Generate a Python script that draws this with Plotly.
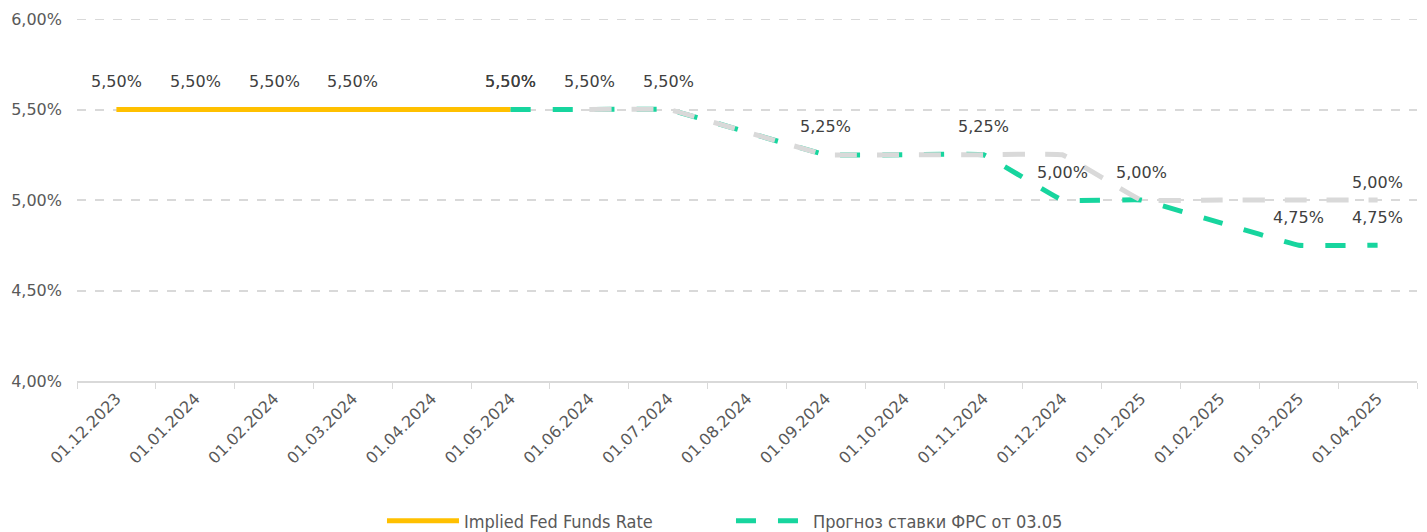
import plotly.graph_objects as go

dates = ["01.12.2023", "01.01.2024", "01.02.2024", "01.03.2024", "01.04.2024",
         "01.05.2024", "01.06.2024", "01.07.2024", "01.08.2024", "01.09.2024",
         "01.10.2024", "01.11.2024", "01.12.2024", "01.01.2025", "01.02.2025",
         "01.03.2025", "01.04.2025"]

implied = [5.50, 5.50, 5.50, 5.50, 5.50, 5.50] + [None] * 11
forecast = [None] * 5 + [5.50, 5.50, 5.50, 5.375, 5.25, 5.25, 5.25, 5.00, 5.00, 4.875, 4.75, 4.75]
previous = [None] * 6 + [5.50, 5.50, 5.375, 5.25, 5.25, 5.25, 5.25, 5.00, 5.00, 5.00, 5.00]

implied_label_idx = [0, 1, 2, 3, 5]
forecast_label_idx = [5, 6, 7, 9, 11, 12, 13, 15, 16]
previous_label_idx = [16]

yticks = [4.0, 4.5, 5.0, 5.5, 6.0]
ytick_text = ["4,00%", "4,50%", "5,00%", "5,50%", "6,00%"]

YELLOW = "#FFC000"
GREEN = "#17D59E"
GRAY = "#D9D9D9"
MAIN_FONT = "DejaVu Sans"


def fmt(v):
    return f"{v:.2f}".replace(".", ",") + "%"


fig = go.Figure()
fig.add_trace(go.Scatter(x=dates, y=implied, mode="lines", name="Implied Fed Funds Rate",
                         line=dict(color=YELLOW, width=5)))
fig.add_trace(go.Scatter(x=dates, y=forecast, mode="lines", name="Прогноз ставки ФРС от 03.05",
                         line=dict(color=GREEN, width=5, dash="20px,22px", shape="spline", smoothing=0.2)))
fig.add_trace(go.Scatter(x=dates, y=previous, mode="lines", name="prev", showlegend=False,
                         line=dict(color=GRAY, width=5, dash="22px,20px", shape="spline", smoothing=0.2)))

lab_font = dict(family=MAIN_FONT, size=16, color="#404040")
for series, idxs, shift in [(implied, implied_label_idx, 28),
                            (forecast, forecast_label_idx, 28),
                            (previous, previous_label_idx, 18)]:
    for i in idxs:
        fig.add_annotation(x=dates[i], y=series[i], text=fmt(series[i]), showarrow=False,
                           yshift=shift, font=lab_font)

fig.update_layout(
    width=1427, height=532,
    margin=dict(l=77, r=10, t=19, b=151, autoexpand=False),
    plot_bgcolor="white", paper_bgcolor="white",
    showlegend=True,
    legend=dict(orientation="h", x=0.2276, xanchor="left", y=-0.387, yanchor="middle",
                font=dict(family="DejaVu Sans Condensed", size=18, color="#595959"),
                entrywidth=262, itemwidth=72),
)
fig.update_xaxes(type="category", range=[-0.5, len(dates) - 0.5],
                 tickson="boundaries", showgrid=False,
                 showline=True, linecolor="#D9D9D9", linewidth=2,
                 ticks="outside", ticklen=6, tickcolor="#D9D9D9", tickwidth=1,
                 tickangle=-45,
                 tickfont=dict(family=MAIN_FONT, size=16, color="#595959"))
fig.update_yaxes(range=[4.0, 6.0], tickvals=yticks, ticktext=ytick_text,
                 showgrid=True, gridcolor="#D9D9D9", gridwidth=2, griddash="dash",
                 zeroline=False, showline=False, ticks="", ticklabelstandoff=14,
                 tickfont=dict(family=MAIN_FONT, size=16, color="#595959"))
# top gridline at 6,00% (plot edge)
fig.add_hline(y=yticks[-1], line=dict(color="#D9D9D9", width=2, dash="dash"))

fig.write_html("out.html", config={"displayModeBar": False},
               post_script="document.body.style.margin='0';document.body.style.overflow='hidden';")
